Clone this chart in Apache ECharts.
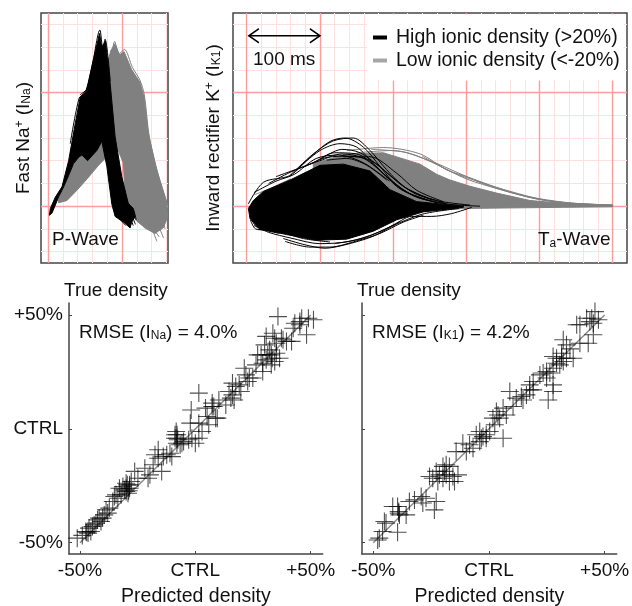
<!DOCTYPE html>
<html>
<head>
<meta charset="utf-8">
<style>html,body{margin:0;padding:0;background:#fff}#c{width:632px;height:606px}</style>
<script src="https://cdn.jsdelivr.net/npm/echarts@6/dist/echarts.min.js"></script>
</head>
<body>
<div id="c"></div>
<script>
// ---- top-panel paper grid (ms / normalised amplitude)
const majorXNa = [0, 100];
const minorXNa = [20, 40, 60, 80, 120, 140, 160];
const majorXK1 = [0, 100, 200, 300, 400, 500];
const minorXK1 = [20,40,60,80,120,140,160,180,220,240,260,280,320,340,360,380,420,440,460,480];
const majorY = [0, 1];
const minorY = [-0.4, -0.2, 0.2, 0.4, 0.6, 0.8, 1.2, 1.4, 1.6];

// ---- P-wave: dense envelopes and individual outlying traces
const naHighBand = [[1.8,-0.08],[3.1,-0.02],[9.9,0.08],[18.8,0.17],[27.8,0.40],[36.8,0.73],[43.5,0.96],[51.6,1.01],[59.2,1.23],[69.5,1.52],[72.6,1.40],[77.6,1.45],[83.9,1.08],[90.6,0.61],[99.6,0.26],[108.5,0.02],[115.2,-0.02],[117.5,-0.09],[113,-0.14],[110.8,-0.19],[101.8,-0.14],[90.6,-0.09],[86.1,0.02],[79.4,0.35],[72.6,0.57],[65.9,0.49],[53.4,0.40],[45.7,0.45],[41.3,0.43],[34.5,0.375],[27.8,0.27],[21.1,0.17],[14.3,0.08],[5.4,-0.06]];
const naLowBand = [[14.3,0.03],[25.6,0.05],[39,0.14],[53.4,0.245],[68.2,0.36],[77.1,0.42],[74.9,0.93],[79.4,1.23],[84.8,1.37],[90.6,1.43],[96.4,1.33],[102.7,1.36],[113,1.20],[124.2,1.09],[129.6,0.96],[135.4,0.64],[146.6,0.32],[160.1,0.04],[161.4,-0.10],[155.6,-0.19],[144.4,-0.24],[133.2,-0.20],[119.7,-0.13],[108.5,-0.04],[104,0.08],[101.8,0.38],[92.8,0.52],[70,0.6],[45,0.5],[30,0.3],[14.3,0.06]];
const naHighTraces = [
  [[43,0.98],[52,1.03],[60,1.25],[70,1.55],[74,1.39],[77,1.47],[84,1.1]],
  [[30,0.55],[42,0.95],[50,1.0],[56,1.1]],
  [[100,-0.02],[106,-0.1],[111,-0.19]],
  [[108,0.0],[113,-0.08],[118,-0.16]],
  [[88,-0.02],[98,-0.12],[105,-0.17]],
  [[95,0.05],[108,-0.06],[115,-0.17]],
  [[105,0.05],[115,-0.03],[119,-0.12]]
];
const naLowTraces = [
  [[84,1.2],[90,1.45],[96,1.34],[103,1.38],[114,1.22],[124,1.11],[130,0.98],[137,0.6],[150,0.25],[162,0]],
  [[125,0.1],[135,-0.1],[147,-0.31]],
  [[130,0.2],[145,-0.1],[156,-0.28]],
  [[120,0.3],[130,0.02],[142,-0.22]],
  [[110,0.35],[122,0.1],[135,-0.12],[150,-0.27]],
  [[135,0.5],[148,0.15],[160,-0.1]],
  [[105,0.1],[118,-0.1],[132,-0.2]],
  [[95,0.98],[115,0.7],[135,0.3],[150,0.02],[158,-0.2]]
];

// ---- Ta-wave: dense envelopes and individual outlying traces
const k1HighBand = [[2.3,-0.02],[9.1,0.05],[22.8,0.13],[59.2,0.23],[100.2,0.36],[132,0.37],[168.5,0.31],[195.8,0.145],[232.2,0.04],[296,0],[296,-0.01],[241.3,-0.05],[204.9,-0.12],[173,-0.22],[136.6,-0.29],[95.6,-0.30],[54.6,-0.25],[18.2,-0.20],[4.6,-0.11]];
const k1LowBand = [[91,0.375],[136.6,0.46],[186.7,0.47],[236.8,0.37],[259.6,0.28],[277.8,0.23],[305.1,0.175],[341.5,0.115],[387,0.05],[432.6,0.025],[500,0.01],[500,-0.005],[432.6,-0.01],[296,-0.02],[204.9,-0.065],[91,-0.065]];
const k1HighTraces = [
  [[2.3,0.02],[22.8,0.21],[59.2,0.27],[86.5,0.43],[113.8,0.57],[134.3,0.60],[159.4,0.52],[182.1,0.35],[204.9,0.18],[232.2,0.08],[273.2,0.02],[318.8,0]],
  [[59.2,0.27],[91,0.46],[118.4,0.575],[145.7,0.60],[168.5,0.49],[191.3,0.32],[218.6,0.155],[259.6,0.05],[305.1,0.01]],
  [[68.3,0.32],[100.2,0.49],[127.5,0.55],[150.3,0.52],[173,0.375],[195.8,0.23],[232.2,0.08],[273.2,0.02]],
  [[50.1,-0.285],[79.7,-0.34],[107,-0.37],[134.3,-0.34],[170.7,-0.27],[198,-0.18],[225.3,-0.09],[252.7,-0.09],[280,-0.065],[307.4,-0.01]],
  [[52.4,-0.31],[86.5,-0.36],[113.8,-0.36],[150.3,-0.305],[182.1,-0.24],[214,-0.14],[241.3,-0.08]],
  [[4.6,-0.09],[13.7,-0.18],[45.5,-0.225],[77.4,-0.285],[113.8,-0.315]],
  [[132,0.435],[168.5,0.435],[204.9,0.29],[232.2,0.14],[268.7,0.04]],
  [[109.3,0.405],[136.6,0.42],[164,0.36],[191.3,0.23]],
  [[40,0.26],[70,0.33],[100,0.40],[130,0.46],[160,0.42],[190,0.27],[220,0.12],[260,0.03]],
  [[30,0.2],[60,0.3],[90,0.38],[120,0.47],[150,0.46],[175,0.36],[210,0.15],[250,0.05]],
  [[80,0.35],[110,0.43],[140,0.44],[170,0.40],[200,0.25],[230,0.11],[270,0.03]],
  [[100,0.41],[130,0.5],[155,0.47],[185,0.33],[215,0.17],[255,0.05]],
  [[10,0.12],[40,0.22],[65,0.28],[95,0.42],[125,0.45],[160,0.38],[195,0.22]],
  [[10,-0.17],[30,-0.23],[60,-0.28],[100,-0.33],[140,-0.31],[180,-0.23],[210,-0.13]],
  [[5,-0.12],[12,-0.2],[25,-0.21],[40,-0.22]],
  [[15,-0.2],[30,-0.22],[45,-0.24]],
  [[120,-0.33],[160,-0.28],[200,-0.17],[240,-0.07],[290,-0.02]]
];
const k1LowTraces = [
  [[136.6,0.49],[186.7,0.516],[236.8,0.46],[273.2,0.32],[305.1,0.25],[341.5,0.164],[387,0.076],[432.6,0.03],[500,0.01]],
  [[150,0.47],[200,0.49],[250,0.40],[290,0.29],[330,0.18],[380,0.09],[440,0.03],[500,0.01]],
  [[240,0.44],[280,0.30],[320,0.21],[360,0.13],[410,0.05],[470,0.015]],
  [[170,0.50],[220,0.47],[262,0.36],[300,0.24],[345,0.15],[395,0.065],[450,0.02]],
  [[10,0.10],[30,0.15],[60,0.24]]
];

// ---- predicted vs true scatter
const naPoints = [[-51.2,-48.0],[-47.1,-45.4],[-46.1,-43.6],[-45.3,-45.1],[-43.9,-42.2],[-42.4,-40.0],[-40.9,-40.7],[-39.5,-37.8],[-38.7,-35.6],[-40.2,-39.2],[-32.2,-29.0],[-30.0,-27.5],[-31.4,-25.3],[-28.5,-24.6],[-29.2,-28.3],[-26.3,-18.7],[-30.0,-26.1],[-28.5,-26.1],[-30.7,-26.8],[-33.6,-30.5],[-19.7,-20.2],[-18.3,-15.8],[-14.6,-18.7],[-16.1,-9.2],[-12.4,-11.4],[-11.0,-10.7],[-13.9,-12.2],[-8.8,-2.6],[-8.0,-4.1],[-8.0,-6.3],[-6.6,-7.0],[-8.8,-4.1],[-5.8,-6.3],[-2.9,-4.8],[-1.5,-4.1],[0,-6.3],[1.5,-4.1],[-2.2,2.5],[1.5,15.7],[-1.8,8.3],[1.5,2.5],[5.8,1.8],[4.4,9.1],[7.3,11.3],[8.0,9.8],[14.6,16.4],[16.8,12.7],[13.2,10.5],[17.5,18.6],[16.1,14.9],[19.0,19.3],[21.2,26.6],[23.4,22.3],[22.7,20.8],[29.2,25.2],[28.5,32.5],[30.7,30.3],[32.9,32.5],[34.4,29.6],[32.2,34.7],[34.4,39.8],[30.7,40.6],[38.0,39.1],[35.1,37.6],[39.5,38.4],[35.8,49.3],[43.1,46.4],[45.3,45.7],[46.1,48.6],[48.2,41.3],[51.2,47.9],[42.4,44.2],[27.0,32.5],[35.1,33.2],[32.9,28.1],[-47.5,-45.1],[-46.5,-45.8],[-43.1,-41.4],[-41.7,-39.2],[-38.0,-37.0],[-35.8,-31.9],[-34.4,-29.0],[-32.9,-26.1],[-29.5,-24.6],[-28.9,-27.2],[-21.9,-17.3],[-20.5,-21.7],[-10.2,-12.2],[-8.3,-1.2],[-7.9,-2.6],[-7.6,-4.8],[-5.1,-5.6],[7.3,9.8],[8.8,4.7],[15.4,13.5],[21.9,23.7],[29.2,28.8],[31.4,32.5],[33.3,31.0],[37.3,39.8],[-49,-46.8],[-44.6,-42.9],[-37.3,-34.8],[-35.1,-29.7],[-27.8,-23.1],[-30,-23.9],[-24.9,-21.7],[-17.5,-11.4],[-16.1,-12.9],[2.9,-1.2],[5.1,5.4],[9.5,4.7],[10.2,12.7],[16.1,20.1],[19.7,16.4],[24.9,22.3],[26.3,28.1],[30,36.9],[33.6,42],[36.5,31],[41.7,38.4],[45.3,47.1],[49,48.6]];
const k1Points = [[-48.1,-48.8],[-47.4,-48.0],[-44.5,-41.4],[-45.2,-40.7],[-39.5,-45.4],[-39.0,-36.3],[-39.5,-34.1],[-35.8,-37.8],[-39.0,-37.0],[-38.7,-37.8],[-32.2,-31.2],[-27.2,-30.5],[-22.8,-31.9],[-23.6,-35.6],[-29.3,-29.7],[-25.7,-20.9],[-24.3,-21.7],[-21.4,-20.2],[-18.5,-15.8],[-18.5,-20.2],[-14.9,-23.1],[-17.1,-16.5],[-22.8,-18.7],[-19.2,-18.7],[-15.6,-20.9],[-19.9,-21.7],[-11.3,-6.3],[-14.2,-10.0],[-6.9,-8.5],[-4.0,-1.2],[-2.6,-3.4],[-1.2,-4.1],[-4.0,-5.6],[6.1,-4.1],[-1.2,-2.6],[-9.8,-10.0],[2.5,1.8],[3.2,7.6],[4.6,4.7],[6.1,9.1],[7.5,6.1],[1.7,4.7],[14.0,14.2],[16.2,14.9],[19.1,17.1],[17.6,19.3],[14.7,12.7],[25.6,12.7],[27.7,19.3],[22.0,23.7],[24.9,25.2],[26.3,24.5],[27.7,26.6],[29.2,28.8],[32.1,29.6],[33.5,31.0],[27.7,31.8],[33.5,36.9],[32.1,39.1],[36.4,31.0],[39.3,37.6],[42.9,37.6],[39.3,45.7],[44.4,48.6],[45.1,46.4],[45.1,41.3],[45.8,51.5],[42.2,48.6],[24.9,22.3],[30.6,28.1],[31.4,31.0],[11.8,13.5],[9.0,16.4],[-46,-45.1],[-41.6,-34.1],[-34.4,-31.9],[-28.6,-32.6],[-22.1,-23.1],[-19.9,-16.5],[-13.4,-20.2],[-17.1,-23.1],[-8.4,-7],[-5.5,-2.6],[-3.3,-4.1],[0.3,-1.2],[3.9,6.1],[10.4,9.8],[17.6,17.1],[23.4,24.5],[29.2,31],[31.4,33.2],[35,35.1],[37.9,45.7],[43.6,47.1],[47.3,47.9],[27.7,16.4],[19.1,20.8]];
const identityLine = [[-50,-50],[50,50]];
const tickValues = [-50, 0, 50];
const tickLabels = ['-50%', 'CTRL', '+50%'];
const scaleArrow = [[3,1.5],[100,1.5]];
const legendHigh = 'High ionic density (>20%)';
const legendLow = 'Low ionic density (<-20%)';

// ---- styling
const FONT = '"Liberation Sans", Arial, Helvetica, sans-serif';
const FS = 19;
const MAJOR = '#ff9c9c', MINOR = '#ffe0e0', FRAME = '#454545';
const BLACK = '#000000', GREY = '#808080';
const richSmall = {
  s: {fontFamily: FONT, fontSize: 12, verticalAlign: 'bottom', padding: [5,0,0,0], color: '#111'},
  u: {fontFamily: FONT, fontSize: 12, verticalAlign: 'top', padding: [0,0,5,0], color: '#111'}
};
const labelTick = v => {
  const i = tickValues.indexOf(v);
  return i < 0 ? '' : tickLabels[i];
};

function paper(idx, majorX, minorX) {
  const mk = (arr, key, color, width) => arr.map(v => ({
    [key]: v, lineStyle: {color: color, width: width, type: 'solid'}
  }));
  return {
    type: 'line', xAxisIndex: idx, yAxisIndex: idx, data: [], silent: true, z: 1,
    markLine: {
      silent: true, symbol: 'none', animation: false, label: {show: false},
      data: [].concat(
        mk(minorX, 'xAxis', MINOR, 1), mk(minorY, 'yAxis', MINOR, 1),
        mk(majorX, 'xAxis', MAJOR, 1.4), mk(majorY, 'yAxis', MAJOR, 1.4))
    }
  };
}
function band(idx, name, points, color, z) {
  return {
    type: 'custom', name: name, xAxisIndex: idx, yAxisIndex: idx, z: z, silent: true,
    data: [0],
    renderItem: (params, api) => ({
      type: 'polygon',
      shape: {points: points.map(p => api.coord(p))},
      style: {fill: color, stroke: color, lineWidth: 1}
    })
  };
}
function trace(idx, name, points, color, z) {
  return {
    type: 'line', name: name, xAxisIndex: idx, yAxisIndex: idx, z: z, silent: true,
    data: points, symbol: 'none', smooth: 0.3,
    lineStyle: {color: color, width: 1}, itemStyle: {color: color}
  };
}
function plusses(idx, points) {
  return [{
    type: 'line', xAxisIndex: idx, yAxisIndex: idx, data: identityLine, symbol: 'none', silent: true, z: 2,
    lineStyle: {color: '#8a8a8a', width: 1.5}
  }, {
    type: 'scatter', xAxisIndex: idx, yAxisIndex: idx, data: points, silent: true, z: 3,
    symbol: 'path://M5 0L5 10M0 5L10 5', symbolSize: 18,
    itemStyle: {color: 'none', borderColor: 'rgba(0,0,0,0.85)', borderWidth: 1.1}
  }];
}
function topAxes(g, min, max) { return {
  gridIndex: g, type: 'value', min: min, max: max, show: false
}; }
function topY(g, name, gap) { return {
  gridIndex: g, type: 'value', min: -0.5, max: 1.7, name: name, nameLocation: 'middle', nameGap: gap,
  nameTextStyle: {fontFamily: FONT, fontSize: 19, color: '#111', rich: richSmall},
  axisLine: {show: false}, axisTick: {show: false}, axisLabel: {show: false}, splitLine: {show: false}
}; }
function sx(g, min, max) { return {
  gridIndex: g, type: 'value', min: min, max: max,
  name: 'Predicted density', nameLocation: 'middle', nameGap: 33,
  nameTextStyle: {fontFamily: FONT, fontSize: 19.5, color: '#111'},
  axisLine: {onZero: false, lineStyle: {color: FRAME, width: 1.5}},
  axisTick: {inside: true, length: 3, customValues: tickValues, lineStyle: {color: FRAME}},
  axisLabel: {customValues: tickValues, formatter: labelTick, margin: 7, fontFamily: FONT, fontSize: FS, color: '#111', hideOverlap: false},
  splitLine: {show: false}
}; }
function sy(g, min, max, showLabels) { return {
  gridIndex: g, type: 'value', min: min, max: max,
  name: 'True density', nameLocation: 'end', nameGap: 3,
  nameTextStyle: {fontFamily: FONT, fontSize: FS, color: '#111', align: 'left', padding: [0,0,0,-5]},
  axisLine: {onZero: false, lineStyle: {color: FRAME, width: 1.5}},
  axisTick: {inside: true, length: 3, customValues: tickValues, lineStyle: {color: FRAME}},
  axisLabel: {show: showLabels, customValues: tickValues, formatter: labelTick, margin: 6, fontFamily: FONT, fontSize: FS, color: '#111', hideOverlap: false},
  splitLine: {show: false}
}; }
function txt(x, y, text, align) { return {
  type: 'text', x: x, y: y, z: 100, silent: true,
  style: {text: text, fontFamily: FONT, fontSize: FS, fill: '#111', align: align || 'left', verticalAlign: 'middle', rich: richSmall}
}; }

const option = {
  animation: false,
  backgroundColor: '#fff',
  grid: [
    {left: 41, top: 13, width: 127, height: 250, show: true, borderColor: FRAME, borderWidth: 1.5, backgroundColor: 'transparent', outerBoundsMode: 'none'},
    {left: 233, top: 13, width: 394, height: 250, show: true, borderColor: FRAME, borderWidth: 1.5, backgroundColor: 'transparent', outerBoundsMode: 'none'},
    {left: 69, top: 303, width: 253.7, height: 251, outerBoundsMode: 'none'},
    {left: 362, top: 303, width: 254.7, height: 251, outerBoundsMode: 'none'}
  ],
  xAxis: [topAxes(0, -9.5, 162), topAxes(1, -18.7, 519.5), sx(2, -54.77, 55.2), sx(3, -54.88, 55.2)],
  yAxis: [
    topY(0, 'Fast Na{u|+} (I{s|Na})', 8),
    topY(1, 'Inward rectifier K{u|+} (I{s|K1})', 10),
    sy(2, -54.97, 55.27, true), sy(3, -54.97, 55.27, false)
  ],
  legend: {
    left: 367, top: 14.5, orient: 'vertical', backgroundColor: '#fff', z: 50,
    padding: [13, 4, 10, 6], itemWidth: 14, itemHeight: 4, itemGap: 3,
    textStyle: {fontFamily: FONT, fontSize: 19.5, color: '#111', padding: [0,0,0,4]},
    selectedMode: false,
    data: [
      {name: legendHigh, icon: 'rect', itemStyle: {color: BLACK}},
      {name: legendLow, icon: 'rect', itemStyle: {color: '#a6a6a6'}}
    ]
  },
  graphic: [
    txt(52, 240, 'P-Wave'),
    txt(538, 240, 'T{s|a}-Wave'),
    txt(253, 60, '100 ms'),
    txt(79, 332.5, 'RMSE (I{s|Na}) = 4.0%'),
    txt(372, 332.5, 'RMSE (I{s|K1}) = 4.2%')
  ],
  series: [
    paper(0, majorXNa, minorXNa),
    paper(1, majorXK1, minorXK1),
    band(0, legendLow, naLowBand, GREY, 5),
    band(0, legendHigh, naHighBand, BLACK, 6),
    band(1, legendLow, k1LowBand, GREY, 5),
    band(1, legendHigh, k1HighBand, BLACK, 6)
  ].concat(
    naLowTraces.map(t => trace(0, legendLow, t, GREY, 5)),
    naHighTraces.map(t => trace(0, legendHigh, t, BLACK, 6)),
    k1LowTraces.map(t => trace(1, legendLow, t, GREY, 5)),
    k1HighTraces.map(t => trace(1, legendHigh, t, BLACK, 6)),
    [{
      type: 'line', xAxisIndex: 1, yAxisIndex: 1, z: 7, silent: true,
      lineStyle: {color: '#000', width: 1.5},
      symbolSize: [10, 14],
      itemStyle: {color: 'none', borderColor: '#000', borderWidth: 1.5},
      data: [
        {value: scaleArrow[0], symbol: 'path://M10 0L0 5L10 10', symbolOffset: [5,0]},
        {value: scaleArrow[1], symbol: 'path://M0 0L10 5L0 10', symbolOffset: [-5,0]}
      ]
    }],
    plusses(2, naPoints),
    plusses(3, k1Points)
  )
};
echarts.init(document.getElementById('c'), null, {renderer: 'canvas'}).setOption(option);
</script>
</body>
</html>
